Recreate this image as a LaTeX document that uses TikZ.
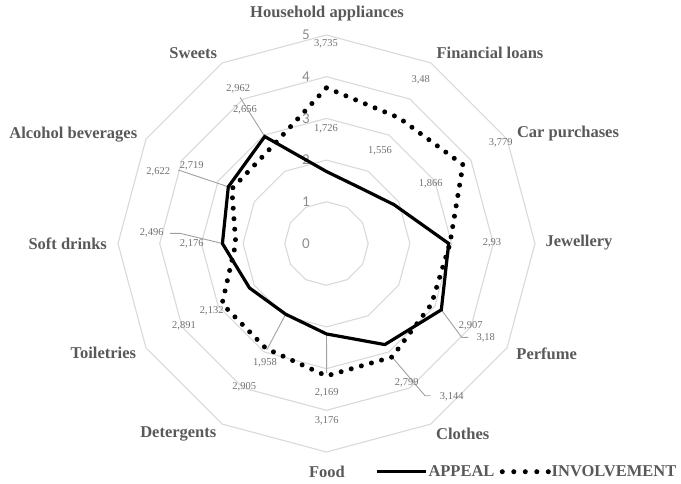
\documentclass[tikz,border=0pt]{standalone}
\usepackage{fontspec}
\setmainfont{Liberation Serif}
\newfontfamily\axfont{Carlito}
\usetikzlibrary{calc}
\definecolor{ringgray}{HTML}{D9D9D9}
\definecolor{catgray}{HTML}{595959}
\definecolor{valgray}{HTML}{707070}
\definecolor{axgray}{HTML}{8C8C8C}
\definecolor{leadgray}{HTML}{A0A0A0}
\tikzset{
  ring/.style={draw=ringgray,line width=1.1pt},
  appeal/.style={draw=black,line width=3.2pt,line join=miter},
  involve/.style={draw=black,line width=5pt,line cap=round,dash pattern=on 0pt off 10.5pt},
  leader/.style={draw=leadgray,line width=0.9pt},
  cat/.style={inner sep=0pt,text=catgray,font=\fontsize{16.5}{18}\selectfont\bfseries},
  val/.style={inner sep=0pt,text=valgray,font=\fontsize{10.5}{12}\selectfont},
  axlab/.style={inner sep=0pt,text=axgray,font=\axfont\fontsize{15}{17}\selectfont},
  legtext/.style={inner sep=0pt,text=catgray,font=\fontsize{16.5}{18}\selectfont\bfseries}
}
\begin{document}
\begin{tikzpicture}[x=1pt,y=1pt]
\useasboundingbox (0,0) rectangle (681,-483);
\coordinate (O) at (326.5,-243.5);
\def\u{41.7}
\begin{scope}[shift={(O)}]
  % rings
  \foreach \k in {1,...,5}{
    \draw[ring] (90:{\k*\u}) \foreach \a in {60,30,...,-240}{ -- (\a:{\k*\u}) } -- cycle;
  }
  % APPEAL vertices
  \coordinate (a1)  at (90:{1.726*\u});
  \coordinate (a2)  at (60:{1.556*\u});
  \coordinate (a3)  at (30:{1.866*\u});
  \coordinate (a4)  at (0:{2.93*\u});
  \coordinate (a5)  at (-30:{3.18*\u});
  \coordinate (a6)  at (-60:{2.799*\u});
  \coordinate (a7)  at (-90:{2.169*\u});
  \coordinate (a8)  at (-120:{1.958*\u});
  \coordinate (a9)  at (-150:{2.132*\u});
  \coordinate (a10) at (180:{2.496*\u});
  \coordinate (a11) at (150:{2.719*\u});
  \coordinate (a12) at (120:{2.962*\u});
  % INVOLVEMENT vertices
  \coordinate (b1)  at (90:{3.735*\u});
  \coordinate (b2)  at (60:{3.48*\u});
  \coordinate (b3)  at (30:{3.779*\u});
  \coordinate (b4)  at (0:{2.96*\u});
  \coordinate (b5)  at (-30:{2.907*\u});
  \coordinate (b6)  at (-60:{3.144*\u});
  \coordinate (b7)  at (-90:{3.176*\u});
  \coordinate (b8)  at (-120:{2.905*\u});
  \coordinate (b9)  at (-150:{2.891*\u});
  \coordinate (b10) at (180:{2.176*\u});
  \coordinate (b11) at (150:{2.622*\u});
  \coordinate (b12) at (120:{2.656*\u});
\end{scope}
% radial axis labels
\foreach \k in {0,...,5}{
  \node[axlab] (ax\k) at (306,{-243.5+\k*\u}) {\k};
}
% leader end points
\coordinate (l12) at (240,-97.3);
\coordinate (l11) at (178.3,-170);
\coordinate (l10a) at (180,-233.3);
\coordinate (l10b) at (170,-233.3);
\coordinate (l8) at (266.7,-350);
\coordinate (l7) at (326.7,-373.3);
\coordinate (l6a) at (425,-395.7);
\coordinate (l6b) at (430.7,-395.7);
\coordinate (l5a) at (461.7,-337.3);
\coordinate (l5b) at (468.3,-337.3);
\draw[leader] (a12) -- (l12);
\draw[leader] (a11) -- (l11);
\draw[leader] (a10) -- (l10a) -- (l10b);
\draw[leader] (a8) -- (l8);
\draw[leader] (a7) -- (l7);
\draw[leader] (b6) -- (l6a) -- (l6b);
\draw[leader] (a5) -- (l5a) -- (l5b);
% series
\draw[appeal] (a1) -- (a2) -- (a3) -- (a4) -- (a5) -- (a6) -- (a7) -- (a8) -- (a9) -- (a10) -- (a11) -- (a12) -- cycle;
\draw[involve] (b1) -- (b2) -- (b3) -- (b4) -- (b5) -- (b6) -- (b7) -- (b8) -- (b9) -- (b10) -- (b11) -- (b12) -- (b1);
% data labels
\node[val] (v1) at (326,-44) {3,735};
\node[val] (v2) at (326,-129) {1,726};
\node[val] (v3) at (420.7,-80) {3,48};
\node[val] (v4) at (380,-151) {1,556};
\node[val] (v5) at (500.7,-143) {3,779};
\node[val] (v6) at (430.7,-184) {1,866};
\node[val] (v7) at (492,-243) {2,93};
\node[val] (v8) at (470.7,-326) {2,907};
\node[val] (v9) at (485.7,-338.3) {3,18};
\node[val] (v10) at (406.7,-383.3) {2,799};
\node[val] (v11) at (451.7,-396.7) {3,144};
\node[val] (v12) at (326.7,-392.7) {2,169};
\node[val] (v13) at (326.7,-420.7) {3,176};
\node[val] (v14) at (265,-363.3) {1,958};
\node[val] (v15) at (244.3,-387.3) {2,905};
\node[val] (v16) at (211.7,-310.7) {2,132};
\node[val] (v17) at (184,-326) {2,891};
\node[val] (v18) at (151.7,-233.3) {2,496};
\node[val] (v19) at (191.7,-244) {2,176};
\node[val] (v20) at (158.3,-171.7) {2,622};
\node[val] (v21) at (191.7,-165.7) {2,719};
\node[val] (v22) at (238.3,-89.3) {2,962};
\node[val] (v23) at (245,-110) {2,656};
% category labels
\node[cat] (c1) at (327,-14) {Household appliances};
\node[cat] (c2) at (490,-53) {Financial loans};
\node[cat] (c3) at (568,-134) {Car purchases};
\node[cat] (c4) at (579,-243) {Jewellery};
\node[cat] (c5) at (546.7,-353.3) {Perfume};
\node[cat] (c6) at (462.7,-434) {Clothes};
\node[cat] (c7) at (327,-472) {Food};
\node[cat] (c8) at (178.3,-434) {Detergents};
\node[cat] (c9) at (103.3,-353.3) {Toiletries};
\node[cat] (c10) at (67.7,-243.3) {Soft drinks};
\node[cat] (c11) at (73.3,-134.3) {Alcohol beverages};
\node[cat] (c12) at (193.3,-52.7) {Sweets};
% legend
\coordinate (ls1) at (376.7,-471.7);
\coordinate (ls2) at (426,-471.7);
\coordinate (ld1) at (502.3,-471.7);
\coordinate (ld2) at (548.3,-471.7);
\draw[appeal] (ls1) -- (ls2);
\node[legtext] (lt1) at (461.5,-471.5) {APPEAL};
\draw[involve,dash pattern=on 0pt off 11.5pt] (ld1) -- (ld2);
\node[legtext] (lt2) at (614,-471.5) {INVOLVEMENT};
\end{tikzpicture}
\end{document}
